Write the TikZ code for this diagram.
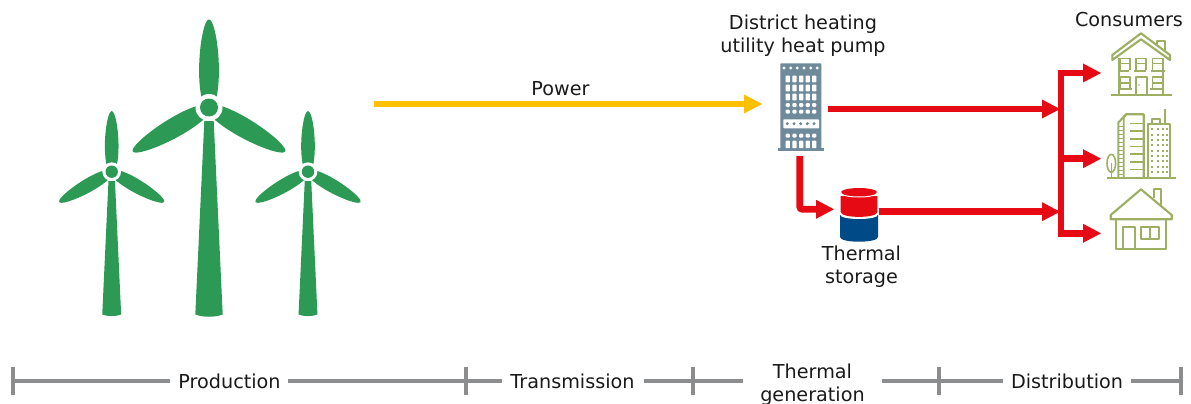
\documentclass[tikz,border=0pt]{standalone}
\usepackage{fontspec}
\setmainfont{DejaVu Sans}
\definecolor{tgreen}{HTML}{2C9955}
\definecolor{tyellow}{HTML}{FFC000}
\definecolor{tred}{HTML}{E60A14}
\definecolor{tblue}{HTML}{004B87}
\definecolor{tolive}{HTML}{9DAF62}
\definecolor{tgray}{HTML}{8C8D8F}
\definecolor{tslate}{HTML}{6F8A9B}
\definecolor{ttext}{HTML}{1A1A1A}
\tikzset{
  flow/.style={line width=5pt,line join=miter},
  headr/.style={fill=tred,draw=none},
  heady/.style={fill=tyellow,draw=none},
  lab/.style={font=\fontsize{14.4pt}{17.2pt}\selectfont,text=ttext,align=center,inner sep=0pt},
  scalebar/.style={tgray,line width=3pt},
  lineart/.style={tolive,line width=1.6pt,line join=round},
  thin art/.style={tolive,line width=1.2pt},
}
\newcommand{\rhead}[3]{\fill[#3] (#1-18,#2-9.5) -- (#1,#2) -- (#1-18,#2+9.5) -- cycle;}
\newcommand{\tblade}{\fill[tgreen] (-7,-8) .. controls (-14,-36) and (-7,-88) .. (0,-88) .. controls (7,-88) and (14,-36) .. (7,-8) -- cycle;}
\newcommand{\turbine}[4]{%
 \begin{scope}[shift={(#1,#2)},scale=#3]
  \tblade
  \begin{scope}[rotate=120]\tblade\end{scope}
  \begin{scope}[rotate=-120]\tblade\end{scope}
  \fill[white] (0,0) circle (13.5);
  \fill[tgreen] (-4.7,13.5) -- (4.7,13.5) -- (13.7,207) .. controls (6,210) and (-6,210) .. (-13.7,207) -- cycle;
  \fill[tgreen] (0,0) circle (9);
  \coordinate (#4) at (0,0);
 \end{scope}}
\begin{document}
\begin{tikzpicture}[x=0.75pt,y=-0.75pt]
\useasboundingbox (0,0) rectangle (1191,403);
\fill[white] (0,0) rectangle (1191,403);
% turbines
\turbine{209}{107.5}{1}{hubA}
\turbine{111.7}{171.7}{0.69}{hubB}
\turbine{308}{171.7}{0.69}{hubC}
% anchors
\coordinate (pwrS) at (374,104);
\coordinate (pwrE) at (744,104);
\coordinate (hpE) at (828,109);
\coordinate (busT) at (1061,73);
\coordinate (busB) at (1061,236.5);
\coordinate (j1) at (1044,109);
\coordinate (j2) at (1044,211.7);
\coordinate (b1) at (1084,73);
\coordinate (b2) at (1084,158.7);
\coordinate (b3) at (1084,233.3);
\coordinate (hpS) at (799.7,156);
\coordinate (stIn) at (817,209.3);
\coordinate (stE) at (879,211.7);
% Power
\draw[tyellow,flow] (pwrS) -- (pwrE);
\rhead{762}{104}{heady}
\node[lab] (power) at (560.5,88.5) {Power};
% heat pump building
\fill[tslate,rounded corners=0.6pt] (780.3,63.3) rectangle (821.3,149);
\fill[tslate] (778,148.2) rectangle (824,151);
\foreach \x in {784,790.7,797.3,804,810.7,817.3} \fill[white] (\x,68) circle (1.6);
\foreach \y in {79,88,97} \foreach \x in {787.8,794.5,801.2,807.8,814.2}
  \fill[white,rounded corners=0.5pt] (\x-2.1,\y-3.4) rectangle (\x+2.1,\y+3.4);
\foreach \y in {105,111.7,135.7} \foreach \x in {787.8,794.5,801.2,807.8,814.2}
  \fill[white,rounded corners=0.8pt] (\x-2.1,\y-2) rectangle (\x+2.1,\y+2);
\foreach \x in {787.8,794.5,801.2,807.8,814.2}
  \fill[white,rounded corners=0.5pt] (\x-2.1,140.7) rectangle (\x+2.1,148.2);
\fill[white,rounded corners=0.6pt] (783.3,119.3) rectangle (819,128.3);
\foreach \x in {787.3,794,800.7,807.3,814} \fill[tslate] (\x,123.7) circle (1.7);
\node[lab] (hplabel) at (803,36) {District heating\\utility heat pump};
% flows
\draw[tred,flow] (hpE) -- (j1);
\rhead{1060}{109}{headr}
\draw[tred,flow] (stE) -- (j2);
\rhead{1060}{211.7}{headr}
\draw[tred,flow,rounded corners=2pt] (hpS) -- (799.7,209.3) -- (stIn);
\rhead{834}{209.3}{headr}
\draw[tred,flow] (b1) -- (busT) -- (busB);
\draw[tred,flow] (busT |- b2) -- (b2);
\draw[tred,flow] (busT |- b3) -- (b3);
\rhead{1101}{73}{headr}
\rhead{1101}{158.7}{headr}
\rhead{1101}{233.3}{headr}
% storage
\fill[tblue] (840,213) -- (878,213) -- (878,237) .. controls (878,243.3) and (840,243.3) .. (840,237) -- cycle;
\fill[white] (840,210) -- (878,210) -- (878,214.5) .. controls (878,220.5) and (840,220.5) .. (840,214.5) -- cycle;
\fill[tred] (840.7,196) -- (877.3,196) -- (877.3,212) .. controls (877.3,218.5) and (840.7,218.5) .. (840.7,212) -- cycle;
\fill[tred] (859,192.5) ellipse (18.3 and 4.5);
\draw[white,line width=0.75pt] (840.7,192.5) .. controls (840.7,198.5) and (877.3,198.5) .. (877.3,192.5);
\node[lab] (stlabel) at (861.5,266.5) {Thermal\\storage};
% consumers
\node[lab] (cons) at (1129,19.5) {Consumers};
% house 1
\begin{scope}[lineart]
 \draw (1112.3,60) -- (1112.3,55) -- (1141,33.3) -- (1170,55) -- (1170,60) -- (1141,39.3) -- cycle;
 \draw (1156.7,46) -- (1156.7,40.7) -- (1165,40.7) -- (1165,50);
 \draw (1119,58) -- (1119,94.3);
 \draw (1163.3,58) -- (1163.3,94.3);
 \draw (1110.7,95) -- (1171.7,95);
 \draw (1117.7,71) -- (1129,71);
 \draw (1134,71) -- (1146,71);
 \draw (1151,71) -- (1165,71);
 \foreach \x in {1120,1135.7,1152.3} {
   \draw[thin art] (\x,70.5) -- (\x,58.7) -- (\x+10,58.7) -- (\x+10,70.5);
   \draw[thin art] (\x,63.5) -- (\x+10,63.5);
 }
 \foreach \x in {1120,1152.3} {
   \draw[thin art] (\x,88.5) -- (\x,77.3) -- (\x+10,77.3) -- (\x+10,88.5);
   \draw[thin art] (\x,83) -- (\x+10,83);
   \draw (\x-2,89) -- (\x+12,89);
 }
 \draw[thin art] (1135.7,94.3) -- (1135.7,77.3) -- (1146.7,77.3) -- (1146.7,94.3);
 \fill[tolive] (1139,85) circle (0.9);
\end{scope}
% buildings
\begin{scope}[lineart]
 \draw (1106.7,177.7) -- (1175.7,177.7);
 \draw[thin art] (1111.3,163.3) ellipse (4.3 and 9);
 \draw[thin art] (1111.3,163) -- (1111.3,177.7);
 \draw (1118.3,177.7) -- (1118.3,122.7) -- (1126,114.3) -- (1143.7,114.3) -- (1143.7,177.7);
 \draw[thin art] (1123.7,177.7) -- (1123.7,118.3) -- (1126,114.3);
 \foreach \y in {123.3,131,138.7,146.3,154,161.7,169.3} \draw[thin art] (1130,\y) -- (1143.7,\y);
 \foreach \y in {126,130,134,138,142,146,150,154,158,162,166,170,174} \draw[line width=0.7pt] (1119,\y) -- (1123,\y);
 \draw (1147.7,177.7) -- (1147.7,124) -- (1170.3,124) -- (1170.3,177.7);
 \draw[thin art] (1152,124) -- (1152,119) -- (1160,119) -- (1160,124);
 \draw[thin art] (1165,124) -- (1165,109.3);
 \foreach \y in {129.3,134.7,140,145.3,150.7,156,161.3,166.7,172} \foreach \x in {1152.3,1157.7,1162.7,1166.7}
   \fill[tolive] (\x-0.9,\y-0.9) rectangle (\x+0.9,\y+0.9);
\end{scope}
% house 3
\begin{scope}[lineart]
 \draw (1110.7,219.3) -- (1110.7,215) -- (1141,189.3) -- (1171.7,215) -- (1171.7,219.3) -- cycle;
 \draw (1154,198) -- (1154,189.3) -- (1161.3,189.3) -- (1161.3,206);
 \draw (1116,219.3) -- (1116,249.3) -- (1166.3,249.3) -- (1166.3,219.3);
 \draw (1122.7,249.3) -- (1122.7,227.3) -- (1135.3,227.3) -- (1135.3,249.3);
 \draw (1140.7,227.3) rectangle (1159.3,239.3);
 \draw (1150,227.3) -- (1150,239.3);
\end{scope}
% scale bar
\coordinate (t0) at (12.7,380.7);
\coordinate (t1) at (466,380.7);
\coordinate (t2) at (693,380.7);
\coordinate (t3) at (939,380.7);
\coordinate (t4) at (1181,380.7);
\foreach \p in {t0,t1,t2,t3,t4} \draw[scalebar] ([yshift=10.4pt]\p) -- ([yshift=-10.4pt]\p);
\node[lab] (prod) at (229.5,381) {Production};
\node[lab] (trans) at (572.5,381) {Transmission};
\node[lab] (tgen) at (812.5,384.5) {Thermal\\generation};
\node[lab] (dist) at (1067,381) {Distribution};
\draw[scalebar] (t0) -- (170,380.7);
\draw[scalebar] (288,380.7) -- (t1) -- (501.5,380.7);
\draw[scalebar] (644,380.7) -- (t2) -- (743,380.7);
\draw[scalebar] (882,380.7) -- (t3) -- (1002.5,380.7);
\draw[scalebar] (1131,380.7) -- (t4);
\end{tikzpicture}
\end{document}
